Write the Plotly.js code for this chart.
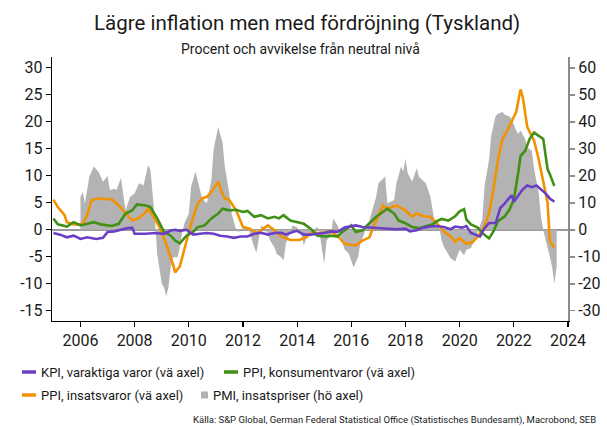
<!DOCTYPE html>
<html>
<head>
<meta charset="utf-8">
<script src="https://cdn.plot.ly/plotly-3.0.1.min.js"></script>
<style>html,body{margin:0;padding:0;background:#fff;}#chart{width:607px;height:426px;}</style>
</head>
<body>
<div id="chart"></div>
<script>
// ---------------- DATA ----------------
const seriesNames = ['KPI, varaktiga varor (vä axel)', 'PPI, konsumentvaror (vä axel)', 'PPI, insatsvaror (vä axel)', 'PMI, insatspriser (hö axel)'];

const kpiDates = ['2005-01','2005-04','2005-07','2005-10','2006-01','2006-04','2006-08','2006-11','2007-01','2007-04','2007-07','2007-10','2007-12','2008-01','2008-06','2008-10','2009-02','2009-05','2009-07','2009-09','2009-12','2010-03','2010-06','2010-09','2010-12','2011-03','2011-06','2011-09','2011-12','2012-03','2012-06','2012-09','2012-12','2013-03','2013-06','2013-08','2013-11','2014-01','2014-04','2014-07','2014-10','2015-01','2015-04','2015-07','2015-10','2016-01','2016-03','2016-06','2016-09','2016-12','2017-03','2017-06','2017-09','2018-01','2018-03','2018-06','2018-09','2018-12','2019-03','2019-06','2019-09','2019-11','2020-02','2020-04','2020-06','2020-08','2020-10','2020-12','2021-02','2021-05','2021-07','2021-09','2021-11','2021-12','2022-01','2022-03','2022-05','2022-07','2022-09','2022-11','2023-01','2023-03','2023-05','2023-07'];
const kpiValues = [-0.6,-0.9,-1.4,-1.1,-1.7,-1.4,-1.7,-1.5,-0.4,-0.3,0.0,0.3,0.35,-0.75,-0.75,-0.6,-0.75,-0.15,0.0,-0.2,0.0,-0.9,-0.75,-0.6,-0.75,-1.1,-1.25,-1.5,-1.25,-1.25,-0.75,-0.55,-0.9,-0.6,-0.55,-0.9,-0.4,-0.2,-0.9,-0.9,-0.75,-0.6,-0.3,-0.4,0.4,0.7,0.8,0.5,0.4,0.4,0.2,0.2,0.1,0.2,-0.3,-0.1,0.4,0.6,0.7,0.5,0.1,0.6,0.4,0.7,-0.6,-0.9,-1.25,0.3,1.25,1.25,4.0,4.9,5.8,6.4,5.2,6.4,7.5,8.2,7.9,8.2,7.5,6.8,5.8,5.2];

const ppiKonsDates = ['2005-01','2005-03','2005-07','2005-10','2006-01','2006-04','2006-07','2006-10','2007-03','2007-06','2007-09','2007-12','2008-02','2008-06','2008-08','2008-11','2009-02','2009-05','2009-07','2009-09','2009-12','2010-03','2010-05','2010-08','2010-11','2011-02','2011-04','2011-07','2011-10','2012-01','2012-03','2012-06','2012-09','2012-12','2013-03','2013-05','2013-07','2013-10','2014-01','2014-04','2014-07','2014-10','2015-01','2015-04','2015-07','2015-09','2015-11','2016-01','2016-03','2016-06','2016-08','2016-10','2016-12','2017-03','2017-05','2017-08','2017-10','2018-01','2018-04','2018-07','2018-10','2019-01','2019-03','2019-05','2019-08','2019-11','2020-01','2020-03','2020-04','2020-06','2020-09','2020-11','2021-02','2021-04','2021-06','2021-09','2021-11','2022-01','2022-03','2022-04','2022-06','2022-08','2022-10','2022-12','2023-02','2023-04','2023-05','2023-07'];
const ppiKonsValues = [2.1,1.0,0.6,1.4,0.8,1.1,1.4,1.0,0.7,1.1,3.0,3.6,4.7,4.5,4.2,2.1,-0.4,-1.1,-2.0,-2.5,-1.1,-0.4,0.5,0.8,2.1,3.0,3.9,3.6,3.7,3.3,3.5,2.4,2.7,2.1,2.4,2.1,2.7,1.7,1.4,1.1,0.2,-1.1,-1.25,-1.1,-1.25,-0.4,0.2,0.8,-0.4,-0.1,0.8,1.7,2.4,3.3,3.9,3.0,1.7,1.2,0.5,0.3,0.6,1.0,1.6,2.0,1.7,2.5,3.4,3.8,1.9,1.0,0.4,-0.6,-1.6,-0.3,1.6,2.5,3.7,5.6,10.6,13.7,14.6,16.8,18.0,17.4,16.8,11.2,10.3,8.1];

const ppiInsDates = ['2005-01','2005-03','2005-06','2005-07','2005-10','2006-02','2006-04','2006-06','2006-09','2007-03','2007-06','2007-09','2007-12','2008-03','2008-06','2008-07','2008-09','2008-12','2009-03','2009-06','2009-07','2009-09','2009-12','2010-02','2010-05','2010-07','2010-09','2010-11','2011-02','2011-03','2011-05','2011-07','2011-10','2012-01','2012-04','2012-07','2012-10','2012-12','2013-03','2013-06','2013-10','2014-02','2014-05','2014-08','2014-11','2015-02','2015-04','2015-07','2015-10','2015-12','2016-03','2016-06','2016-09','2016-11','2017-01','2017-03','2017-05','2017-09','2018-01','2018-04','2018-06','2018-09','2018-12','2019-03','2019-06','2019-09','2019-11','2020-01','2020-04','2020-07','2020-09','2020-12','2021-02','2021-04','2021-06','2021-08','2021-10','2021-12','2022-02','2022-04','2022-05','2022-07','2022-10','2022-12','2023-02','2023-04','2023-05','2023-07'];
const ppiInsValues = [5.6,4.2,2.7,1.4,1.0,1.0,2.7,5.5,5.8,5.6,4.5,3.0,1.7,2.2,3.3,3.9,2.7,0.5,-2.6,-6.4,-7.9,-6.8,-2.0,1.1,4.9,5.8,6.1,7.0,8.9,7.7,5.8,5.5,3.6,0.5,0.2,-0.7,0.2,0.8,-0.1,-1.25,-1.9,-1.9,-1.4,-0.4,-0.7,-0.4,-0.4,-1.1,-2.6,-2.7,-2.9,-2.0,-1.4,0.8,2.7,4.5,3.9,4.5,3.6,2.4,3.0,2.5,2.4,1.2,-0.3,-1.25,-2.2,-1.55,-2.6,-2.2,-1.25,0.6,3.1,7.5,13.0,16.8,18.3,20.2,21.8,26.0,24.6,19.0,16.5,13.1,8.7,5.0,-2.2,-3.3];

const pmiDates = ['2006-01','2006-02','2006-03','2006-04','2006-05','2006-07','2006-09','2006-11','2007-01','2007-02','2007-04','2007-05','2007-07','2007-09','2007-11','2008-01','2008-03','2008-05','2008-07','2008-08','2008-09','2008-10','2008-11','2009-01','2009-02','2009-03','2009-04','2009-05','2009-06','2009-08','2009-09','2009-10','2009-11','2010-01','2010-02','2010-04','2010-06','2010-07','2010-09','2010-11','2010-12','2011-02','2011-04','2011-05','2011-07','2011-08','2011-10','2011-11','2012-01','2012-02','2012-04','2012-06','2012-07','2012-08','2012-09','2012-11','2013-01','2013-03','2013-04','2013-06','2013-07','2013-08','2013-10','2013-11','2014-01','2014-03','2014-04','2014-05','2014-07','2014-10','2014-11','2015-01','2015-02','2015-04','2015-05','2015-07','2015-08','2015-10','2015-12','2016-01','2016-02','2016-04','2016-05','2016-07','2016-09','2016-12','2017-01','2017-03','2017-04','2017-05','2017-08','2017-09','2017-11','2017-12','2018-01','2018-02','2018-04','2018-06','2018-07','2018-10','2018-12','2019-01','2019-02','2019-04','2019-05','2019-06','2019-08','2019-09','2019-11','2020-01','2020-03','2020-04','2020-06','2020-07','2020-08','2020-09','2020-11','2020-12','2021-02','2021-03','2021-05','2021-06','2021-08','2021-09','2021-11','2021-12','2022-02','2022-03','2022-04','2022-06','2022-07','2022-09','2022-10','2022-12','2023-01','2023-02','2023-04','2023-05','2023-06','2023-07','2023-08'];
const pmiValues = [12.2,14.0,9.7,14.7,19.7,23.4,21.5,17.8,19.9,14.7,15.2,14.7,19.2,7.2,12.2,13.4,17.2,16.5,24.0,22.2,13.6,4.0,-9.0,-20.0,-21.4,-24.6,-21.4,-14.0,-10.2,-10.2,-6.6,-1.4,2.2,6.0,16.0,21.6,14.6,11.6,9.8,18.4,29.6,38.2,32.2,23.4,13.4,6.0,0.0,-0.8,0.4,1.6,-0.8,-6.6,-8.4,-4.0,1.6,0.4,-4.0,-6.6,-9.0,-10.2,-11.4,-5.2,-0.2,1.6,0.8,-2.2,-5.8,-3.4,-0.8,1.0,-1.5,-12.8,-4.0,-2.2,4.2,1.6,-1.5,-7.2,-9.0,-11.4,-14.0,-10.2,-5.2,-0.8,3.4,12.2,17.2,18.8,19.8,9.8,11.0,17.2,23.4,21.6,26.0,20.8,17.8,22.8,19.6,17.2,12.4,7.4,2.4,0.8,-3.8,-6.2,-8.8,-10.6,-11.8,-7.4,-9.4,-7.4,-6.8,-5.0,-3.2,-0.6,3.8,16.0,26.0,34.8,42.2,43.0,43.6,42.6,42.0,41.2,36.8,35.6,36.8,33.6,30.6,29.2,22.4,13.8,5.0,0.0,-6.2,-10.0,-13.8,-20.0,-13.8];

const leftTicks = [-15,-10,-5,0,5,10,15,20,25,30];
const leftTickLabels = ['-15','-10','-5','0','5','10','15','20','25','30'];
const rightTicks = [-30,-20,-10,0,10,20,30,40,50,60];
const rightTickLabels = ['-30','-20','-10','0','10','20','30','40','50','60'];
const yearTicks = ['2006-01-01','2008-01-01','2010-01-01','2012-01-01','2014-01-01','2016-01-01','2018-01-01','2020-01-01','2022-01-01','2024-01-01'];
const yearTickLabels = ['2006','2008','2010','2012','2014','2016','2018','2020','2022','2024'];

const titleText = 'Lägre inflation men med fördröjning (Tyskland)';
const subtitleText = 'Procent och avvikelse från neutral nivå';
const sourceText = 'Källa: S&P Global, German Federal Statistical Office (Statistisches Bundesamt), Macrobond, SEB';

// ---------------- STYLE ----------------
const colors = {kpi:'#6a3fc6', kons:'#3f9014', ins:'#f39200', pmi:'#b3b3b3'};
const FONT = 'Roboto, "Liberation Sans", sans-serif';
const TXT = '#1a1a1a';
const W = 607, H = 426;
const M = {l:52, r:39, t:57, b:105};
const PW = W - M.l - M.r, PH = H - M.t - M.b;
const px = x => (x - M.l) / PW;
const py = y => (H - M.b - y) / PH;

// PMI (right axis) lives on the base y axis so it is drawn beneath the lines;
// the left-axis series live on the overlaying y2 axis.
const traces = [
  {x: pmiDates, y: pmiValues, name: seriesNames[3], type:'scatter', mode:'lines', yaxis:'y',
   fill:'tozeroy', fillcolor: colors.pmi, line:{width:0, color: colors.pmi}, showlegend:false, hoverinfo:'skip'},
  {x: ppiInsDates, y: ppiInsValues, name: seriesNames[2], type:'scatter', mode:'lines', yaxis:'y2',
   line:{color: colors.ins, width:2.6}, showlegend:false},
  {x: ppiKonsDates, y: ppiKonsValues, name: seriesNames[1], type:'scatter', mode:'lines', yaxis:'y2',
   line:{color: colors.kons, width:2.6}, showlegend:false},
  {x: kpiDates, y: kpiValues, name: seriesNames[0], type:'scatter', mode:'lines', yaxis:'y2',
   line:{color: colors.kpi, width:2.6}, showlegend:false}
];

// custom legend (swatches + real text)
const legendItems = [
  {name: seriesNames[0], color: colors.kpi, kind:'line', sx:22, tx:39, y:372},
  {name: seriesNames[1], color: colors.kons, kind:'line', sx:224, tx:241, y:372},
  {name: seriesNames[2], color: colors.ins, kind:'line', sx:22, tx:39, y:395},
  {name: seriesNames[3], color: colors.pmi, kind:'box', sx:201, tx:211, y:395}
];
const shapes = [];
const annotations = [];
legendItems.forEach(it => {
  if (it.kind === 'line') {
    shapes.push({type:'line', xref:'paper', yref:'paper', x0:px(it.sx), x1:px(it.sx+14), y0:py(it.y), y1:py(it.y),
      line:{color:it.color, width:3.5}});
  } else {
    shapes.push({type:'rect', xref:'paper', yref:'paper', x0:px(it.sx), x1:px(it.sx+7), y0:py(it.y+3.5), y1:py(it.y-3.5),
      fillcolor:it.color, line:{width:0}});
  }
  annotations.push({text: it.name, xref:'paper', yref:'paper', x:px(it.tx), y:py(it.y), xanchor:'left', yanchor:'middle',
    showarrow:false, font:{family:FONT, size:13, color:TXT}});
});
annotations.push({text: subtitleText, xref:'paper', yref:'paper', x:px(300), y:py(49), xanchor:'center', yanchor:'middle',
  showarrow:false, font:{family:FONT, size:14, color:TXT}});
annotations.push({text: sourceText, xref:'paper', yref:'paper', x:px(598), y:py(420), xanchor:'right', yanchor:'middle',
  showarrow:false, font:{family:FONT, size:9.5, color:TXT}});

const layout = {
  width: W, height: H,
  margin: M,
  paper_bgcolor:'#fff', plot_bgcolor:'#fff',
  font:{family:FONT, color:TXT},
  title:{text: titleText, x:0.506, xanchor:'center', y:1-23/H, yanchor:'middle', yref:'container',
    font:{family:FONT, size:20.5, color:TXT}},
  showlegend:false,
  xaxis:{type:'date', range:['2004-12-13','2024-01-01'], tickvals: yearTicks, ticktext: yearTickLabels,
    showgrid:false, zeroline:false, showline:true, linecolor:'#000', linewidth:1.2,
    ticks:'outside', ticklen:5, tickcolor:'#000', tickwidth:1.2, tickfont:{family:FONT, size:16, color:TXT}},
  // right axis (PMI) - base axis
  yaxis:{range:[-33.8, 64.0], side:'right', tickvals:rightTicks, ticktext:rightTickLabels,
    showgrid:false, zeroline:false, showline:true, linecolor:'#8c8c8c', linewidth:2,
    ticks:'outside', ticklen:5, tickcolor:'#8c8c8c', tickwidth:1.5, tickfont:{family:FONT, size:16, color:TXT}},
  // left axis - overlaying
  yaxis2:{range:[-16.9, 32.0], overlaying:'y', side:'left', tickvals:leftTicks, ticktext:leftTickLabels,
    showgrid:false, zeroline:true, zerolinecolor:'#9a9a9a', zerolinewidth:1.5,
    showline:true, linecolor:'#000', linewidth:1.2, ticks:'outside', ticklen:5, tickcolor:'#000', tickwidth:1.2,
    tickfont:{family:FONT, size:16, color:TXT}},
  shapes: shapes,
  annotations: annotations
};

Plotly.newPlot('chart', traces, layout, {displayModeBar:false, staticPlot:true});
</script>
</body>
</html>
